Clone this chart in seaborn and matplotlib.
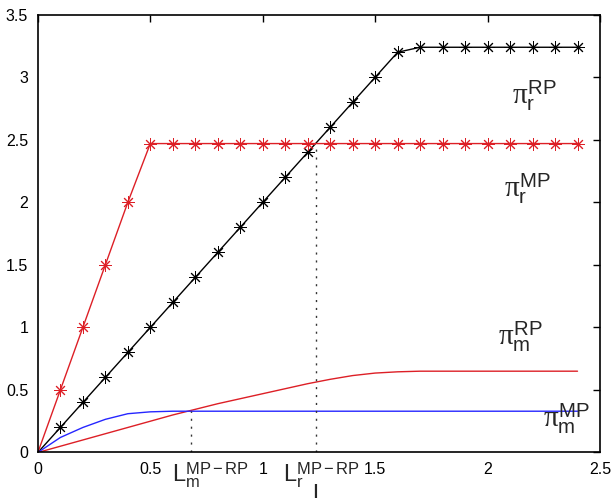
import matplotlib
matplotlib.use("Agg")
import matplotlib.pyplot as plt
import seaborn as sns

# grid of L values
L_VALS = [0.0, 0.1, 0.2, 0.3, 0.4, 0.5, 0.6, 0.7, 0.8, 0.9, 1.0, 1.1, 1.2,
          1.3, 1.4, 1.5, 1.6, 1.7, 1.8, 1.9, 2.0, 2.1, 2.2, 2.3, 2.4]

PI_R_RP = [0.0, 0.2, 0.4, 0.6, 0.8, 1.0, 1.2, 1.4, 1.6, 1.8, 2.0, 2.2, 2.4,
           2.6, 2.8, 3.0, 3.2, 3.24, 3.24, 3.24, 3.24, 3.24, 3.24, 3.24, 3.24]
PI_R_MP = [0.0, 0.5, 1.0, 1.5, 2.0, 2.47, 2.47, 2.47, 2.47, 2.47, 2.47, 2.47, 2.47,
           2.47, 2.47, 2.47, 2.47, 2.47, 2.47, 2.47, 2.47, 2.47, 2.47, 2.47, 2.47]
PI_M_RP = [0.0, 0.05, 0.1, 0.15, 0.2, 0.25, 0.3, 0.345, 0.39, 0.43, 0.47, 0.51, 0.55,
           0.585, 0.615, 0.635, 0.645, 0.65, 0.65, 0.65, 0.65, 0.65, 0.65, 0.65, 0.65]
PI_M_MP = [0.0, 0.12, 0.2, 0.265, 0.31, 0.325, 0.33, 0.33, 0.33, 0.33, 0.33, 0.33, 0.33,
           0.33, 0.33, 0.33, 0.33, 0.33, 0.33, 0.33, 0.33, 0.33, 0.33, 0.33, 0.33]

L_M_CROSS = 0.68   # pi_m^MP = pi_m^RP
L_R_CROSS = 1.235  # pi_r^MP = pi_r^RP
Y_M_CROSS = 0.33
Y_R_CROSS = 2.47

RED = "#dd1f26"
BLUE = "#2626ff"


def main() -> None:
    sns.set_theme(style="white")
    plt.rcParams["font.family"] = ["Liberation Sans", "DejaVu Sans"]
    plt.rcParams["mathtext.fontset"] = "custom"
    plt.rcParams["mathtext.rm"] = "Liberation Sans"
    plt.rcParams["mathtext.it"] = "Liberation Serif"

    fig = plt.figure(figsize=(6.11, 4.98), dpi=100)
    ax = fig.add_axes([0.062, 0.0914, 0.92, 0.879])

    star = dict(marker=(8, 2, 0), markersize=9, markeredgewidth=0.7, markevery=slice(1, None))
    sns.lineplot(x=L_VALS, y=PI_R_RP, ax=ax, color="black", lw=1.0,
                 markeredgecolor="black", **star)
    sns.lineplot(x=L_VALS, y=PI_R_MP, ax=ax, color=RED, lw=1.0,
                 markeredgecolor=RED, **star)
    sns.lineplot(x=L_VALS, y=PI_M_RP, ax=ax, color=RED, lw=1.0)
    sns.lineplot(x=L_VALS, y=PI_M_MP, ax=ax, color=BLUE, lw=1.0)

    ax.plot([L_M_CROSS, L_M_CROSS], [0, Y_M_CROSS], color="#333333", lw=1.0, ls=(0, (1.5, 4.2)))
    ax.plot([L_R_CROSS, L_R_CROSS], [0, Y_R_CROSS], color="#333333", lw=1.0, ls=(0, (1.5, 4.2)))

    ax.set_xlim(0, 2.5)
    ax.set_ylim(0, 3.5)
    ax.set_xticks([0, 0.5, 1, 1.5, 2, 2.5])
    ax.set_xticklabels(["0", "0.5", "1", "1.5", "2", "2.5"])
    ax.set_yticks([0, 0.5, 1, 1.5, 2, 2.5, 3, 3.5])
    ax.set_yticklabels(["0", "0.5", "1", "1.5", "2", "2.5", "3", "3.5"])
    ax.tick_params(direction="in", length=5, width=1.0, top=True, right=True,
                   labelsize=11.5, colors="black", pad=7)
    for s in ax.spines.values():
        s.set_color("black")
        s.set_linewidth(1.2)

    # curve labels
    ax.text(2.11, 2.79, r"$\pi_{\mathrm{r}}^{\mathrm{RP}}$", fontsize=21, va="baseline")
    ax.text(2.075, 2.04, r"$\pi_{\mathrm{r}}^{\mathrm{MP}}$", fontsize=21, va="baseline")
    ax.text(2.045, 0.86, r"$\pi_{\mathrm{m}}^{\mathrm{RP}}$", fontsize=21, va="baseline")
    ax.text(2.245, 0.20, r"$\pi_{\mathrm{m}}^{\mathrm{MP}}$", fontsize=21, va="baseline")

    # threshold labels under the axis
    ax.text(0.596, -0.236, r"$\mathrm{L}_{\mathrm{m}}^{\mathrm{MP-RP}}$", fontsize=17,
            va="baseline", clip_on=False)
    ax.text(1.089, -0.236, r"$\mathrm{L}_{\mathrm{r}}^{\mathrm{MP-RP}}$", fontsize=17,
            va="baseline", clip_on=False)
    ax.text(1.22, -0.385, "L", fontsize=17, va="baseline", clip_on=False)

    fig.savefig("out.png", dpi=100)
    plt.close(fig)


if __name__ == "__main__":
    main()
